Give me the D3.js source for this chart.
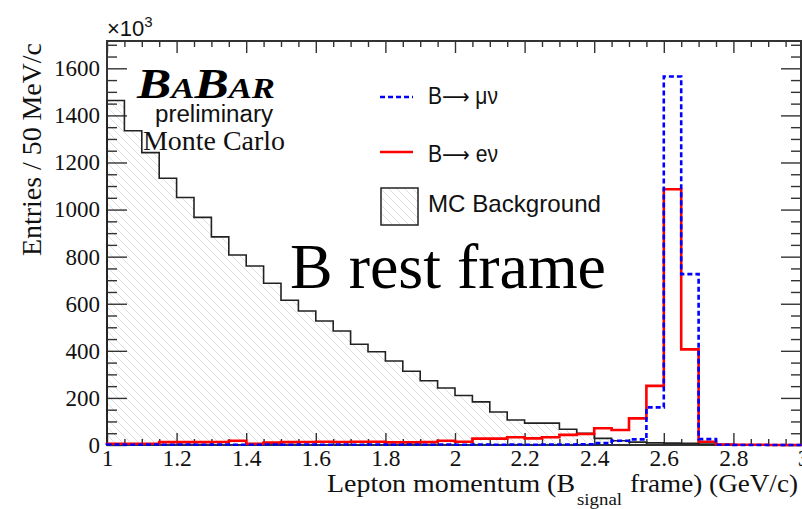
<!DOCTYPE html>
<html><head><meta charset="utf-8">
<script src="https://cdn.jsdelivr.net/npm/d3@7/dist/d3.min.js"></script>
<style>body{margin:0;background:#fff}svg{display:block}</style>
</head><body><svg id="c" width="802" height="509"></svg>
<script>
// ---- data (bins of 50 MeV/c, lower edges) ----
const binLow = [1.00,1.05,1.10,1.15,1.20,1.25,1.30,1.35,1.40,1.45,
                1.50,1.55,1.60,1.65,1.70,1.75,1.80,1.85,1.90,1.95,
                2.00,2.05,2.10,2.15,2.20,2.25,2.30,2.35,2.40,2.45,
                2.50,2.55,2.60,2.65,2.70,2.75,2.80,2.85,2.90,2.95];
const binWidth = 0.05;
const background = [1463,1335,1242,1133,1051,967,884,807,760,687,
                    615,569,527,484,428,396,357,313,273,242,
                    210,183,140,106,93,93,67,50,28,18,
                    12,9,8,7,4,2,1,1,0,0];
const eNu = [5,5,5,12,12,12,13,18,5,10,
             12,13,14,13,14,14,11,11,12,18,
             14,27,27,33,28,33,43,47,71,64,
             113,251,1086,406,14,2,1,1,0,0];
const muNu = [2,1,2,1,2,1,2,1,1,2,
              1,2,1,2,1,2,1,2,1,2,
              1,2,1,2,1,2,2,3,8,18,
              24,160,1565,726,25,1,0,0,0,0];
const xTickValues = [1,1.2,1.4,1.6,1.8,2,2.2,2.4,2.6,2.8,3];
const xTickLabels = ["1","1.2","1.4","1.6","1.8","2","2.2","2.4","2.6","2.8","3"];
const yTickValues = [0,200,400,600,800,1000,1200,1400,1600];
const yTickLabels = ["0","200","400","600","800","1000","1200","1400","1600"];
const legendLabels = [["B","\u03bc\u03bd"],["B","e\u03bd"],["MC Background"]];

// ---- layout ----
const svg = d3.select("#c");
const L = 107, R = 803, T = 41, B = 445;
const x = d3.scaleLinear().domain([1,3]).range([L,R]);
const y = d3.scaleLinear().domain([0,1716]).range([B,T]);
const serif = "'Liberation Serif','Times New Roman',serif";
const sans = "'Liberation Sans',Arial,sans-serif";

const defs = svg.append("defs");
const pat = defs.append("pattern").attr("id","hatch").attr("patternUnits","userSpaceOnUse")
  .attr("width",8).attr("height",8);
pat.append("path").attr("d","M-2,-2L10,10M-2,6L2,10M6,-2L10,2")
  .attr("stroke","#dadada").attr("stroke-width",0.85);

function stepPath(vals){
  let p = `M${x(binLow[0])},${y(0)}`;
  vals.forEach((v,i)=>{ p += `L${x(binLow[i])},${y(v)}L${x(binLow[i]+binWidth)},${y(v)}`; });
  p += `L${x(binLow[vals.length-1]+binWidth)},${y(0)}`;
  return p;
}

// hatched background fill
svg.append("path").attr("d", stepPath(background)+"Z").attr("fill","url(#hatch)").attr("stroke","none");

// ---- axes ----
const minorY = d3.range(0,1716,50).filter(v=>v%200!==0);
const minorX = d3.range(1,3.001,0.05).filter(v=>Math.abs(v*5-Math.round(v*5))>1e-6);
function styleAxis(g){
  g.select(".domain").remove();
  g.selectAll(".tick line").attr("stroke","#333").attr("stroke-width",1.4);
}
svg.append("g").attr("transform",`translate(0,${B})`)
  .call(d3.axisBottom(x).tickValues(xTickValues).tickSize(-12).tickPadding(4)
    .tickFormat((d,i)=>xTickLabels[i]))
  .call(styleAxis)
  .call(g=>g.selectAll("text").attr("font-family",serif).attr("font-size",23.5).attr("fill","#111"));
svg.append("g").attr("transform",`translate(0,${B})`)
  .call(d3.axisBottom(x).tickValues(minorX).tickSize(-6).tickFormat(""))
  .call(styleAxis);
svg.append("g").attr("transform",`translate(0,${T})`)
  .call(d3.axisTop(x).tickValues(xTickValues).tickSize(-12).tickFormat(""))
  .call(styleAxis);
svg.append("g").attr("transform",`translate(0,${T})`)
  .call(d3.axisTop(x).tickValues(minorX).tickSize(-6).tickFormat(""))
  .call(styleAxis);
svg.append("g").attr("transform",`translate(${L},0)`)
  .call(d3.axisLeft(y).tickValues(yTickValues).tickSize(-20).tickPadding(7)
    .tickFormat((d,i)=>yTickLabels[i]))
  .call(styleAxis)
  .call(g=>g.selectAll("text").attr("font-family",serif).attr("font-size",23).attr("fill","#111"));
svg.append("g").attr("transform",`translate(${L},0)`)
  .call(d3.axisLeft(y).tickValues(minorY).tickSize(-10).tickFormat(""))
  .call(styleAxis);
svg.append("g").attr("transform",`translate(801,0)`)
  .call(d3.axisRight(y).tickValues(yTickValues).tickSize(-20).tickFormat(""))
  .call(styleAxis);
svg.append("g").attr("transform",`translate(801,0)`)
  .call(d3.axisRight(y).tickValues(minorY).tickSize(-10).tickFormat(""))
  .call(styleAxis);

// frame
svg.append("rect").attr("x",L).attr("y",T).attr("width",801-L).attr("height",B-T)
  .attr("fill","none").attr("stroke","#333").attr("stroke-width",2);

// ---- histograms ----
svg.append("path").attr("d", stepPath(background)).attr("fill","none")
  .attr("stroke","#222").attr("stroke-width",1.6);
svg.append("path").attr("d", stepPath(eNu)).attr("fill","none")
  .attr("stroke","#ff0000").attr("stroke-width",2.6);
svg.append("path").attr("d", stepPath(muNu)).attr("fill","none")
  .attr("stroke","#0000ff").attr("stroke-width",2.6).attr("stroke-dasharray","5,3");

// ---- texts ----
function fit(sel,w){ sel.attr("textLength",w).attr("lengthAdjust","spacingAndGlyphs"); return sel; }

const e3 = svg.append("text").attr("x",107).attr("y",36).attr("font-family",sans).attr("font-size",22).attr("fill","#111");
e3.append("tspan").text("\u00d710");
e3.append("tspan").attr("font-size",15).attr("dy",-9).text("3");

fit(svg.append("text").attr("transform","translate(41,256) rotate(-90)")
  .attr("font-family",serif).attr("font-size",28).attr("fill","#111")
  .text("Entries / 50 MeV/c"), 213);

fit(svg.append("text").attr("x",327).attr("y",492).attr("font-family",serif).attr("font-size",25.5).attr("fill","#111").text("Lepton momentum (B"),248);
fit(svg.append("text").attr("x",577).attr("y",505).attr("font-family",serif).attr("font-size",17).attr("fill","#111").text("signal"),45);
fit(svg.append("text").attr("x",630).attr("y",492).attr("font-family",serif).attr("font-size",25.5).attr("fill","#111").text("frame) (GeV/c)"),168);

// BABAR logo
const logo = svg.append("text").attr("x",137).attr("y",98).attr("font-family",serif)
  .attr("font-weight","bold").attr("font-style","italic").attr("fill","#000");
logo.append("tspan").attr("font-size",43).text("B");
logo.append("tspan").attr("font-size",29).text("A");
logo.append("tspan").attr("font-size",43).text("B");
logo.append("tspan").attr("font-size",29).text("AR");
fit(logo,138);
fit(svg.append("text").attr("x",155).attr("y",122).attr("font-family",sans).attr("font-size",23).attr("fill","#111").text("preliminary"),118);
fit(svg.append("text").attr("x",143).attr("y",150).attr("font-family",serif).attr("font-size",27).attr("fill","#111").text("Monte Carlo"),142);

fit(svg.append("text").attr("x",290).attr("y",288).attr("font-family",serif).attr("font-size",63).attr("fill","#000").text("B rest frame"),316);

// legend
svg.append("line").attr("x1",380).attr("x2",413).attr("y1",97).attr("y2",97)
  .attr("stroke","#0000ff").attr("stroke-width",2.6).attr("stroke-dasharray","5,3");
svg.append("line").attr("x1",380).attr("x2",413).attr("y1",152).attr("y2",152)
  .attr("stroke","#ff0000").attr("stroke-width",2.6);
svg.append("rect").attr("x",381).attr("y",188).attr("width",37).attr("height",37)
  .attr("fill","url(#hatch)").attr("stroke","#222").attr("stroke-width",1.5);
function arrowLabel(yb, parts){
  const t = svg.append("text").attr("x",428).attr("y",yb).attr("font-family",sans).attr("font-size",23).attr("fill","#111");
  t.append("tspan").text(parts[0]);
  t.append("tspan").attr("font-family","'DejaVu Sans',sans-serif").attr("font-size",21).text("\u27f6");
  t.append("tspan").text(" "+parts[1]);
  fit(t,70);
}
arrowLabel(104, legendLabels[0]);
arrowLabel(162, legendLabels[1]);
fit(svg.append("text").attr("x",428).attr("y",212).attr("font-family",sans).attr("font-size",24).attr("fill","#111").text(legendLabels[2][0]),173);
</script></body></html>
